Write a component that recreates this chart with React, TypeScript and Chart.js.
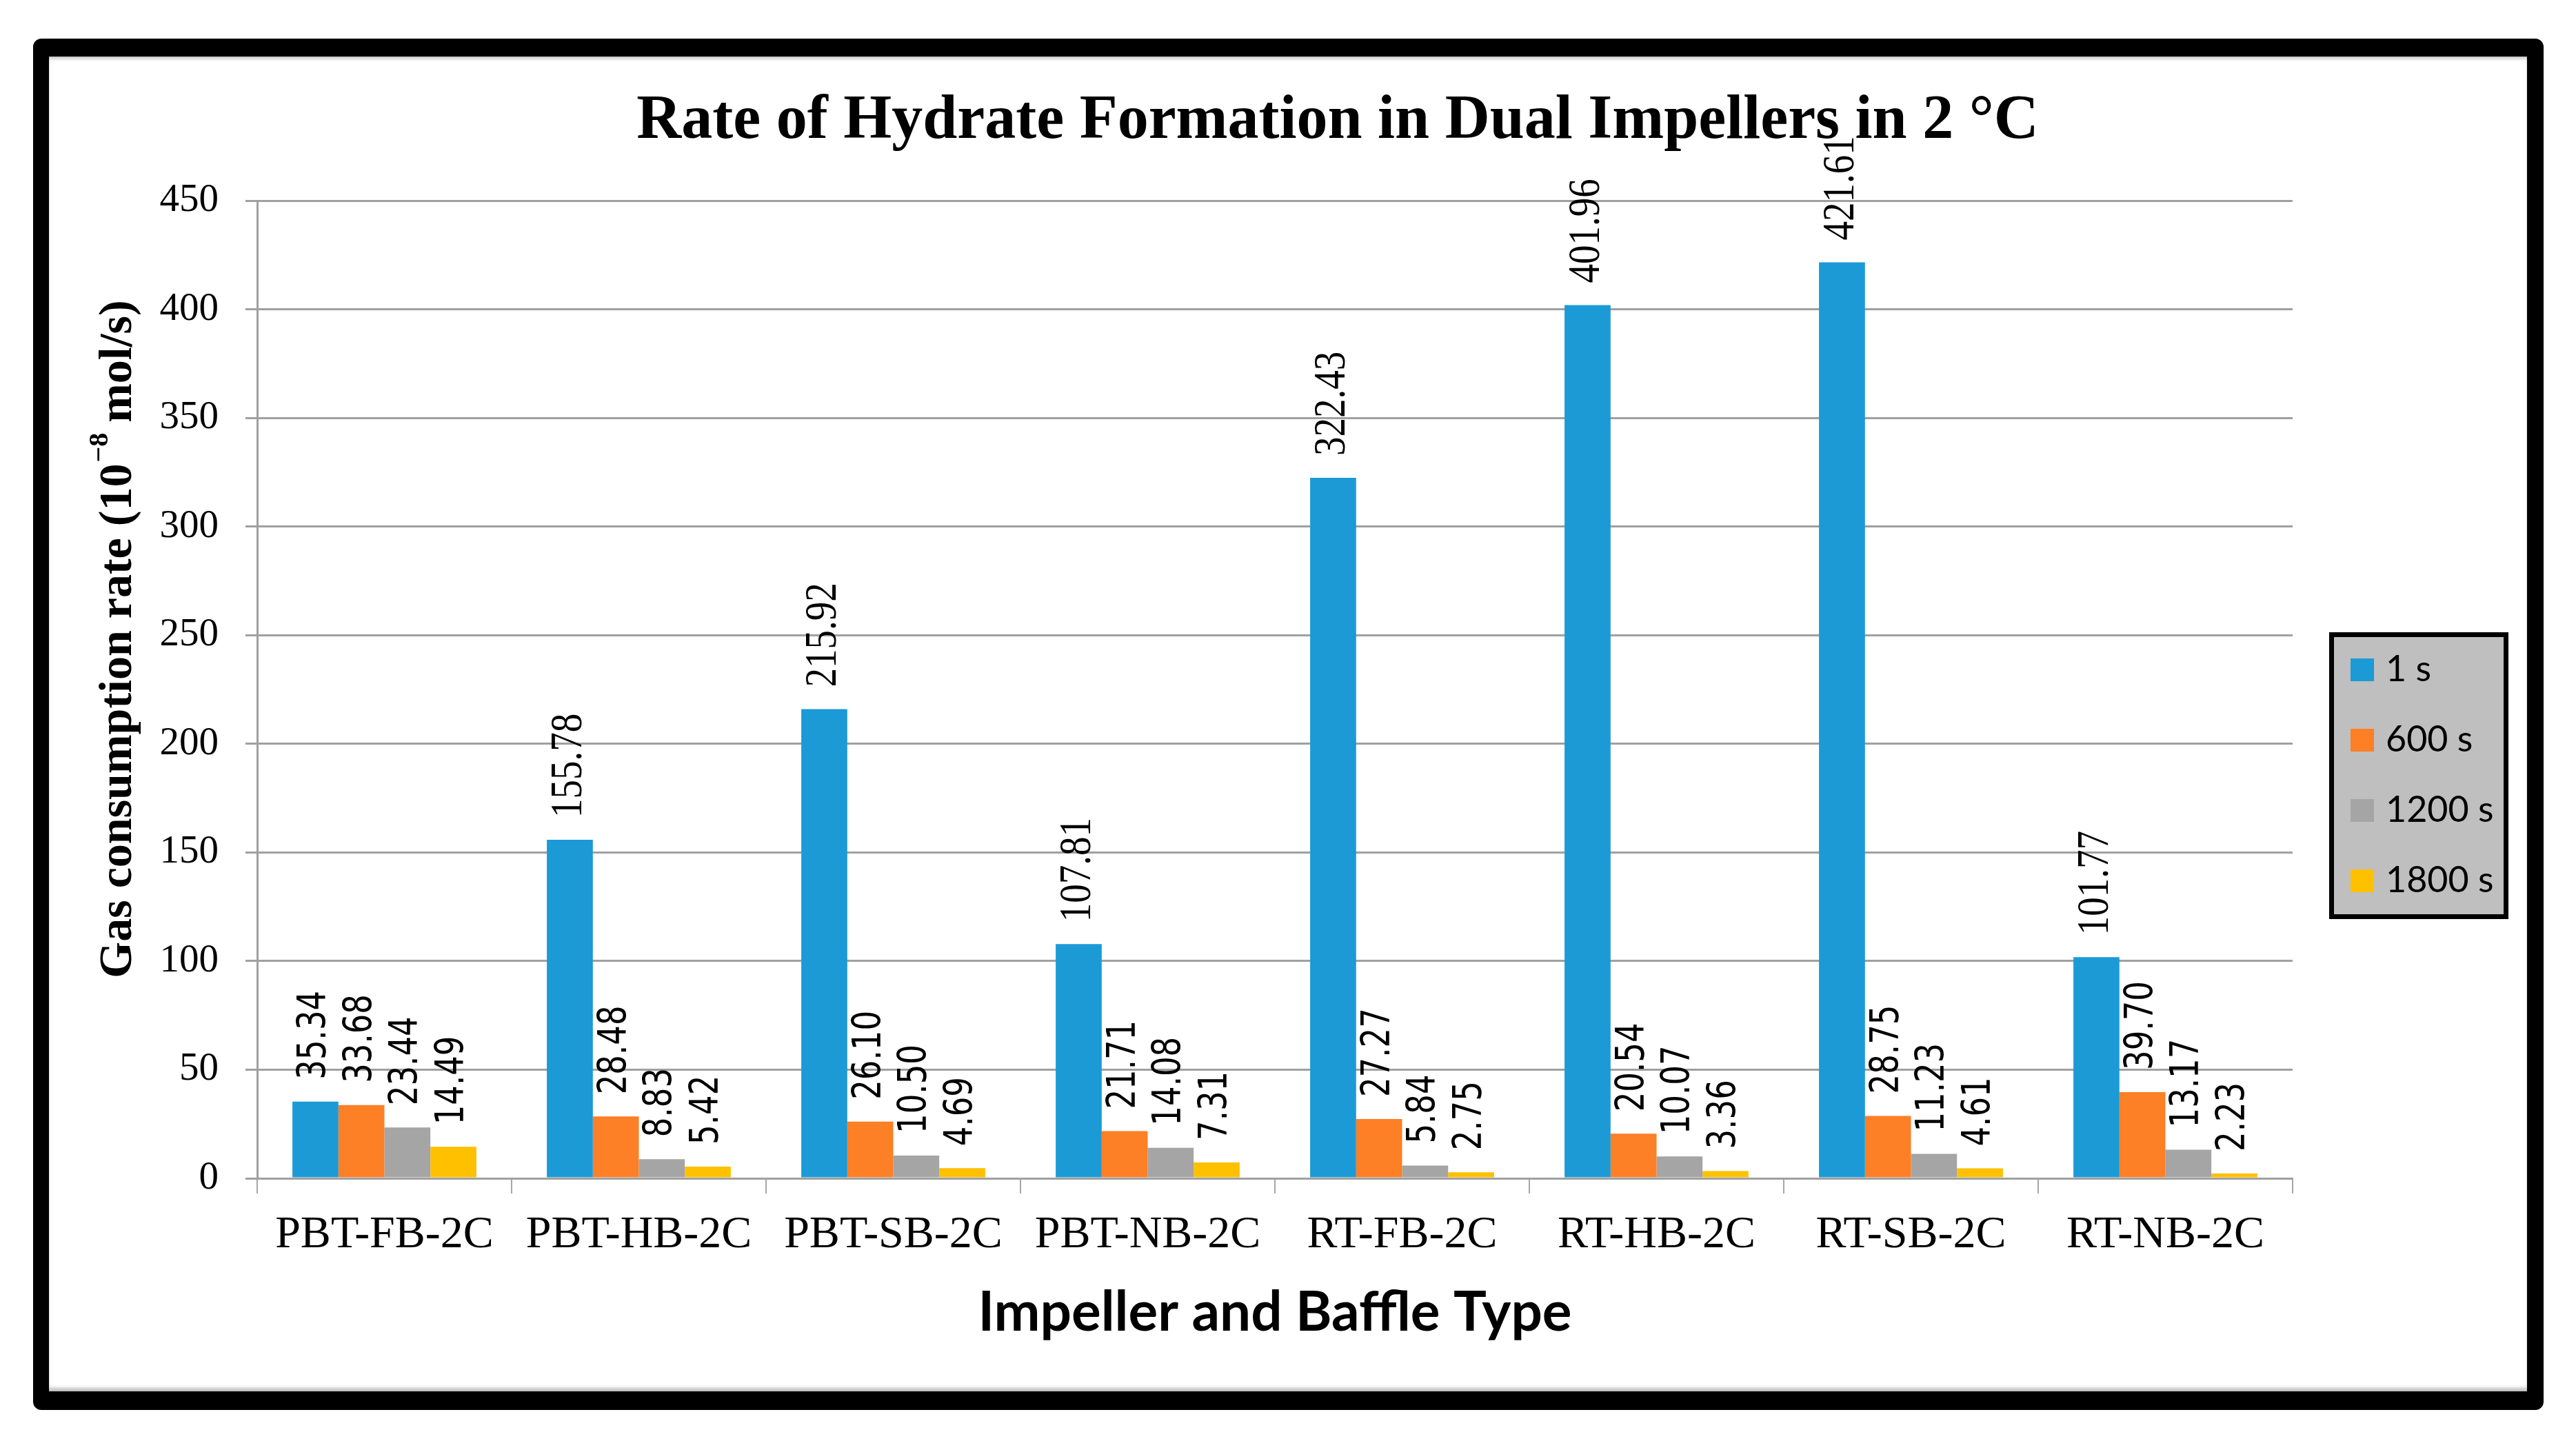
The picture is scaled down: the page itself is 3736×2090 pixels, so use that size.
import React, { useEffect, useRef } from 'react';
import { Chart, registerables } from 'chart.js';

Chart.register(...registerables);

// ---- data ----
const CATEGORIES = ['PBT-FB-2C', 'PBT-HB-2C', 'PBT-SB-2C', 'PBT-NB-2C', 'RT-FB-2C', 'RT-HB-2C', 'RT-SB-2C', 'RT-NB-2C'];
const SERIES_LABELS = ['1 s', '600 s', '1200 s', '1800 s'];
const RATE_1S = [35.34, 155.78, 215.92, 107.81, 322.43, 401.96, 421.61, 101.77];
const RATE_600S = [33.68, 28.48, 26.1, 21.71, 27.27, 20.54, 28.75, 39.7];
const RATE_1200S = [23.44, 8.83, 10.5, 14.08, 5.84, 10.07, 11.23, 13.17];
const RATE_1800S = [14.49, 5.42, 4.69, 7.31, 2.75, 3.36, 4.61, 2.23];
const Y_MIN = 0;
const Y_MAX = 450;
const Y_STEP = 50;
const TITLE = 'Rate of Hydrate Formation in Dual Impellers in 2 °C';
const X_TITLE = 'Impeller and Baffle Type';
const Y_TITLE_PARTS = ['Gas consumption rate (10', '\u22128', ' mol/s)'];

// ---- styles ----
const COLORS = ['#1b9ad6', '#fd7f26', '#a5a5a5', '#ffc000'];
const W = 3736;
const H = 2090;

const overlayPlugin = {
  id: 'overlay',
  afterDatasetsDraw(chart: any) {
    const ctx = chart.ctx;
    chart.data.datasets.forEach((ds: any, di: number) => {
      const meta = chart.getDatasetMeta(di);
      meta.data.forEach((el: any, i: number) => {
        const v = ds.data[i] as number;
        const serif = di === 0 && i > 0;
        ctx.save();
        ctx.translate(el.x, el.y - 32);
        ctx.rotate(-Math.PI / 2);
        ctx.scale(1, serif ? 1.18 : 1.25);
        ctx.font = serif ? '55px "Liberation Serif"' : '45px "DejaVu Sans"';
        ctx.fillStyle = '#000';
        ctx.textAlign = 'left';
        ctx.textBaseline = 'middle';
        ctx.fillText(v.toFixed(2), 0, 0);
        ctx.restore();
      });
    });
  },
  afterDraw(chart: any) {
    const ctx = chart.ctx;
    const area = chart.chartArea;
    // main title
    ctx.save();
    ctx.font = 'bold 90px "Liberation Serif"';
    ctx.fillStyle = '#000';
    ctx.textAlign = 'center';
    ctx.textBaseline = 'alphabetic';
    ctx.fillText(TITLE, 1940, 200);
    ctx.restore();

    // x title
    ctx.save();
    ctx.font = 'bold 80px Lato';
    ctx.fillStyle = '#000';
    ctx.textAlign = 'center';
    ctx.textBaseline = 'alphabetic';
    ctx.fillText(X_TITLE, (area.left + area.right) / 2, 1930);
    ctx.restore();

    // y title with superscript
    ctx.save();
    ctx.translate(190, 927);
    ctx.rotate(-Math.PI / 2);
    ctx.fillStyle = '#000';
    ctx.textAlign = 'left';
    ctx.textBaseline = 'alphabetic';
    const big = 'bold 68px "Liberation Serif"';
    const small = 'bold 40px "Liberation Serif"';
    ctx.font = big;
    const w1 = ctx.measureText(Y_TITLE_PARTS[0]).width;
    const w3 = ctx.measureText(Y_TITLE_PARTS[2]).width;
    ctx.font = small;
    const w2 = ctx.measureText(Y_TITLE_PARTS[1]).width;
    let x = -(w1 + w2 + w3) / 2;
    ctx.font = big;
    ctx.fillText(Y_TITLE_PARTS[0], x, 0);
    x += w1;
    ctx.font = small;
    ctx.fillText(Y_TITLE_PARTS[1], x + 2, -34);
    x += w2;
    ctx.font = big;
    ctx.fillText(Y_TITLE_PARTS[2], x, 0);
    ctx.restore();

    // legend
    const lx = 3378, ly = 917, lw = 260, lh = 416;
    ctx.save();
    ctx.fillStyle = '#bfbfbf';
    ctx.fillRect(lx, ly, lw, lh);
    ctx.lineWidth = 7;
    ctx.strokeStyle = '#000';
    ctx.strokeRect(lx + 3.5, ly + 3.5, lw - 7, lh - 7);
    ctx.font = '52px Lato';
    ctx.textAlign = 'left';
    ctx.textBaseline = 'alphabetic';
    chart.data.datasets.forEach((ds: any, i: number) => {
      const top = 955 + i * 102;
      ctx.fillStyle = ds.backgroundColor;
      ctx.fillRect(3409, top, 34, 33);
      ctx.fillStyle = '#000';
      ctx.fillText(ds.label, 3460, top + 33);
    });
    ctx.restore();
  },
};

export default function App() {
  const ref = useRef<HTMLCanvasElement>(null);

  useEffect(() => {
    const canvas = ref.current;
    if (!canvas) return;
    const seriesValues = [RATE_1S, RATE_600S, RATE_1200S, RATE_1800S];
    const chart = new Chart(canvas, {
      type: 'bar',
      data: {
        labels: CATEGORIES,
        datasets: SERIES_LABELS.map((label, i) => ({
          label,
          data: seriesValues[i],
          backgroundColor: COLORS[i],
          borderWidth: 0,
          barPercentage: 1,
          categoryPercentage: 0.723,
        })),
      },
      options: {
        responsive: false,
        animation: false,
        devicePixelRatio: 1,
        layout: { padding: { top: 291, right: 411, bottom: 0, left: 0 } },
        plugins: {
          legend: { display: false },
          title: { display: false },
          tooltip: { enabled: false },
        },
        scales: {
          x: {
            offset: true,
            grid: {
              display: true,
              drawOnChartArea: false,
              drawTicks: true,
              tickLength: 22,
              color: '#a6a6a6',
              lineWidth: 2,
              offset: true,
            },
            border: { display: true, color: '#a0a0a0', width: 3 },
            ticks: {
              font: { family: '"Liberation Serif"', size: 66 },
              color: '#000',
              padding: 21,
              maxRotation: 0,
              autoSkip: false,
            },
            afterFit: (s: any) => {
              s.height = 381;
            },
          },
          y: {
            min: Y_MIN,
            max: Y_MAX,
            ticks: {
              stepSize: Y_STEP,
              font: { family: '"Liberation Serif"', size: 57 },
              color: '#000',
              padding: 39,
            },
            grid: { color: '#a0a0a0', lineWidth: 3, tickLength: 17, drawTicks: true },
            border: { display: true, color: '#a0a0a0', width: 3 },
            afterFit: (s: any) => {
              s.width = 373;
            },
          },
        },
      },
      plugins: [overlayPlugin],
    } as any);
    return () => chart.destroy();
  }, []);

  return (
    <div style={{ position: 'fixed', left: 0, top: 0, width: W, height: H, background: '#fff', overflow: 'hidden' }}>
      <div
        style={{
          position: 'absolute',
          left: 48,
          top: 56,
          width: 3641,
          height: 1989,
          boxSizing: 'border-box',
          borderStyle: 'solid',
          borderColor: '#000',
          borderWidth: '26px 24px 27px 23px',
          borderRadius: 12,
          background: '#fff',
          boxShadow: 'inset 0 5px 5px -2px rgba(0,0,0,0.25), inset 0 -7px 5px -2px rgba(0,0,0,0.25)',
        }}
      />
      <canvas ref={ref} width={W} height={H} style={{ position: 'absolute', left: 0, top: 0, width: W, height: H }} />
    </div>
  );
}
